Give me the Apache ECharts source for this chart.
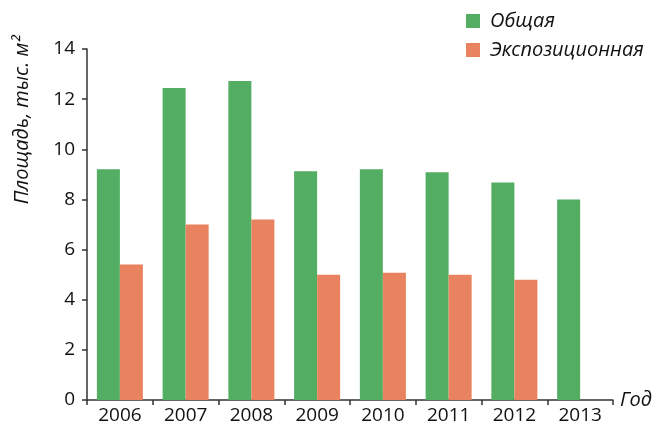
<!DOCTYPE html>
<html>
<head>
<meta charset="utf-8">
<script src="https://cdn.jsdelivr.net/npm/echarts@6/dist/echarts.min.js"></script>
<style>
  html, body { margin: 0; padding: 0; background: #fff; }
  #main { width: 666px; height: 431px; }
</style>
</head>
<body>
<div id="main"></div>
<script>
// годы
var years = ['2006', '2007', '2008', '2009', '2010', '2011', '2012', '2013'];
// площадь, тыс. м2
var totalArea = [9.2, 12.44, 12.72, 9.12, 9.2, 9.08, 8.68, 8.0];
var expoArea = [5.4, 7.0, 7.2, 5.0, 5.08, 5.0, 4.8, null];
var seriesNames = ['Общая', 'Экспозиционная'];

var font = 'Open Sans';
var chart = echarts.init(document.getElementById('main'));

var option = {
    animation: false,
    textStyle: { fontFamily: font },
    color: ['#53ae64', '#e9825f'],
    grid: {
        left: 87,
        right: 53,
        top: 49,
        bottom: 31
    },
    legend: {
        orient: 'vertical',
        left: 461,
        top: 6,
        itemWidth: 14,
        itemHeight: 14,
        itemGap: 9,
        icon: 'rect',
        textStyle: {
            fontFamily: font,
            fontStyle: 'italic',
            fontSize: 20,
            color: '#111',
            padding: [0, 0, 0, 5]
        },
        data: seriesNames
    },
    xAxis: {
        type: 'category',
        data: years,
        name: 'Год',
        nameLocation: 'end',
        nameGap: 7,
        nameTextStyle: {
            fontFamily: font,
            fontStyle: 'italic',
            fontSize: 20,
            color: '#111',
            verticalAlign: 'middle'
        },
        axisLine: { lineStyle: { color: '#333', width: 1.5 } },
        axisTick: { show: true, length: 5, lineStyle: { color: '#333', width: 1.5 } },
        axisLabel: { fontSize: 19, color: '#111', margin: 6 }
    },
    yAxis: {
        type: 'value',
        min: 0,
        max: 14,
        interval: 2,
        axisLine: { show: true, lineStyle: { color: '#333', width: 1.5 } },
        axisTick: { show: true, length: 5, lineStyle: { color: '#333', width: 1.5 } },
        axisLabel: { fontSize: 19, color: '#111', margin: 12 },
        splitLine: { show: false }
    },
    graphic: [{
        type: 'text',
        x: 22,
        y: 120,
        rotation: Math.PI / 2,
        style: {
            text: 'Площадь, тыс. м²',
            fontFamily: font,
            fontStyle: 'italic',
            fontSize: 20,
            fill: '#111',
            align: 'center',
            verticalAlign: 'middle'
        }
    }],
    series: [{
        name: seriesNames[0],
        type: 'bar',
        data: totalArea,
        barGap: '0%',
        barCategoryGap: '30%'
    }, {
        name: seriesNames[1],
        type: 'bar',
        data: expoArea
    }]
};

chart.setOption(option);
</script>
</body>
</html>
